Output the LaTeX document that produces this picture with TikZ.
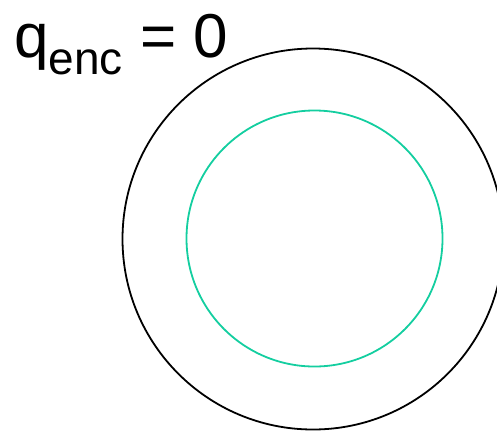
\documentclass[tikz,border=0pt]{standalone}
\usepackage{fontspec}
\setmainfont{Liberation Sans}
\usepackage{tikz}
\usetikzlibrary{positioning}
\definecolor{gausscol}{RGB}{20,206,160}
\tikzset{
  shell/.style={draw=black, circle, line width=1.8pt, inner sep=0pt},
  gauss/.style={draw=gausscol, circle, line width=1.8pt, inner sep=0pt},
  qlbl/.style={inner sep=0pt, anchor=base west, font=\fontsize{62}{62}\selectfont}
}
\begin{document}
\begin{tikzpicture}[x=1pt, y=-1pt]
  \useasboundingbox (0,0) rectangle (497,432);
  \clip (0,0) rectangle (497,432);
  \node[shell, minimum size=381pt] (outer) at (313,239) {};
  \node[gauss, minimum size=256pt] (inner) at (314.5,238.5) {};
  \node[qlbl] (qenc) at (14,57)
    {q\raisebox{-17pt}{\fontsize{46}{46}\selectfont enc} = 0};
\end{tikzpicture}
\end{document}
